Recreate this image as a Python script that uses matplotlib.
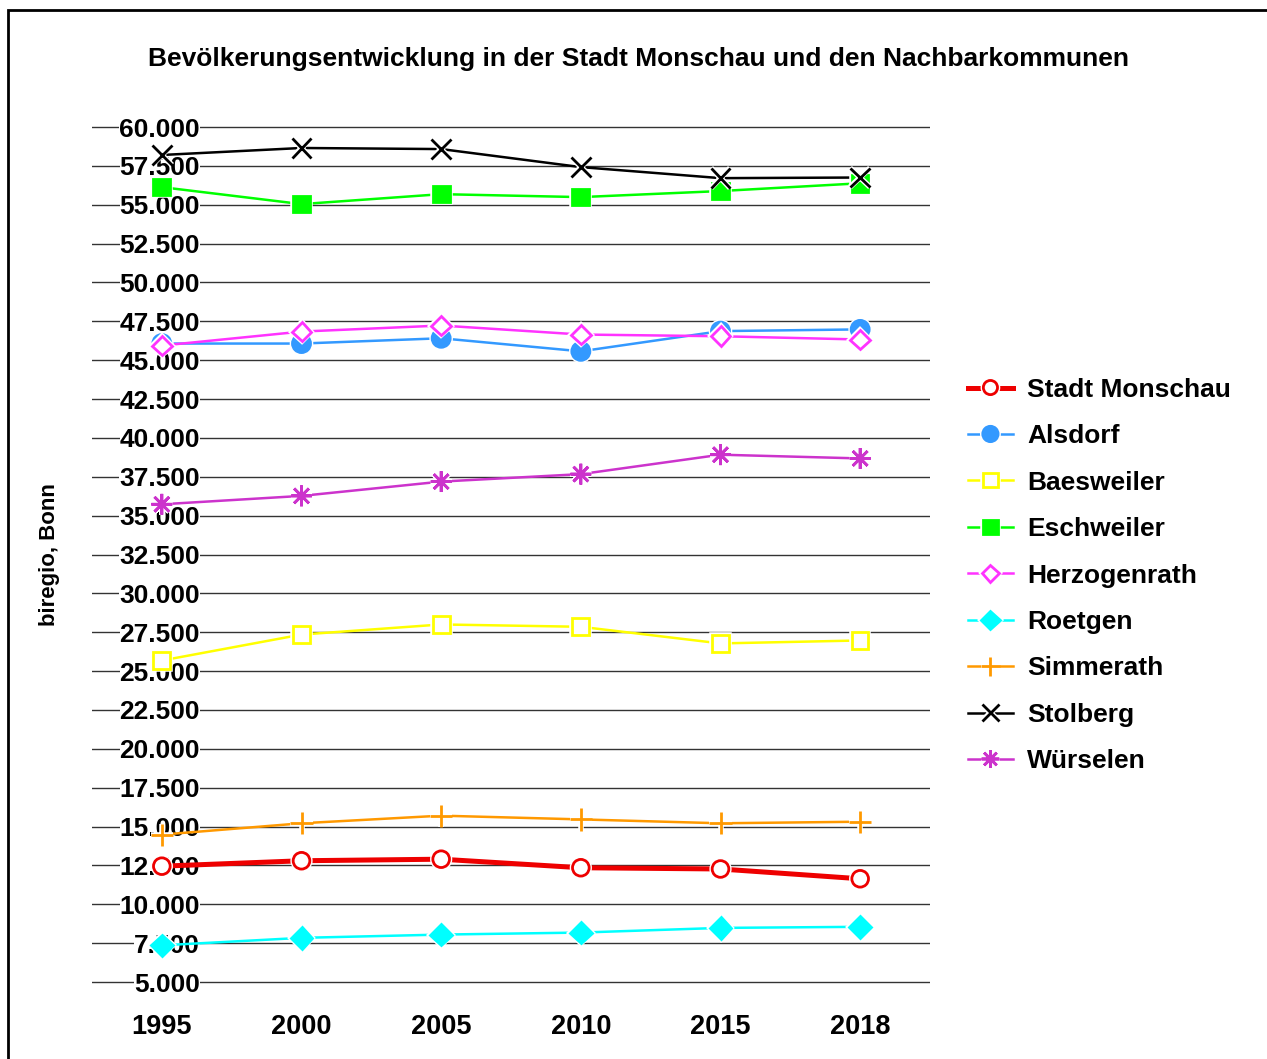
import matplotlib
matplotlib.use("Agg")
import matplotlib.pyplot as plt
import matplotlib.patheffects as pe
from matplotlib.patches import Rectangle
from matplotlib.ticker import FuncFormatter

plt.rcParams['font.family'] = ['Liberation Sans', 'DejaVu Sans']
plt.rcParams['font.weight'] = 'bold'

TITLE = "Bevölkerungsentwicklung in der Stadt Monschau und den Nachbarkommunen"
YLABEL = "biregio, Bonn"

years = ["1995", "2000", "2005", "2010", "2015", "2018"]

monschau     = [12450, 12800, 12900, 12350, 12270, 11640]
alsdorf      = [46070, 46070, 46410, 45570, 46870, 46980]
baesweiler   = [25680, 27350, 28000, 27850, 26780, 26970]
eschweiler   = [56130, 55040, 55680, 55490, 55880, 56380]
herzogenrath = [45940, 46840, 47230, 46650, 46540, 46330]
roetgen      = [7360, 7840, 8050, 8180, 8480, 8550]
simmerath    = [14480, 15210, 15700, 15460, 15210, 15310]
stolberg     = [58200, 58650, 58580, 57420, 56710, 56750]
wuerselen    = [35730, 36270, 37190, 37670, 38920, 38680]

yticks = list(range(5000, 60001, 2500))

# name, data, color, marker, marker size, filled, line width
series = [
    ("Stadt Monschau", monschau, "#EE0000", "o", 12, False, 3.6),
    ("Alsdorf", alsdorf, "#3399FF", "o", 13, True, 1.8),
    ("Baesweiler", baesweiler, "#FFFF00", "s", 12, False, 1.8),
    ("Eschweiler", eschweiler, "#00FF00", "s", 12, True, 1.8),
    ("Herzogenrath", herzogenrath, "#FF33FF", "D", 10, False, 1.8),
    ("Roetgen", roetgen, "#00FFFF", "D", 11, True, 1.8),
    ("Simmerath", simmerath, "#FF9900", "+", 16, True, 1.8),
    ("Stolberg", stolberg, "#000000", "x", 14, True, 1.8),
    ("Würselen", wuerselen, "#CC33CC", (8, 2, 0), 15, True, 1.8),
]

W, H = 1267, 1059
fig = plt.figure(figsize=(W / 100, H / 100), dpi=100)

# axes: x 92..930 px, y-grid 60.000 at 127 px, 5.000 at 982 px
pxu = (982 - 127) / 55000
ylo, yhi = 4000, 61000
top = 127 - (yhi - 60000) * pxu
bot = 982 + (5000 - ylo) * pxu
ax = fig.add_axes([92 / W, 1 - bot / H, (930 - 92) / W, (bot - top) / H])
ax.set_xlim(-0.5, len(years) - 0.5)
ax.set_ylim(ylo, yhi)

for v in yticks:
    ax.axhline(v, color="#333333", lw=1.0, zorder=1)

handles = []
x = list(range(len(years)))
for name, data, col, mk, ms, filled, lw in series:
    ln, = ax.plot(x, data, color=col, lw=lw, zorder=3)
    mfc = col if filled else "white"
    m, = ax.plot(x, data, ls="none", marker=mk, ms=ms, mfc=mfc, mec=col,
                 mew=2.0, zorder=4, clip_on=False)
    m.set_path_effects([pe.Stroke(linewidth=4, foreground="white"), pe.Normal()])
    handles.append((ln, m))

ax.set_xticks(x)
ax.set_xticklabels(years)
ax.set_yticks(yticks)
ax.yaxis.set_major_formatter(FuncFormatter(lambda v, p: f"{v:,.0f}".replace(",", ".")))
ax.tick_params(axis="y", length=0, pad=-(200 - 92) * 0.72, labelsize=19)
ax.tick_params(axis="x", length=0, pad=12, labelsize=19.5)
for lab in ax.get_yticklabels():
    lab.set_bbox(dict(facecolor="white", edgecolor="none", pad=0))
for s in ax.spines.values():
    s.set_visible(False)

fig.text(639 / W, 1 - 59 / H, TITLE, ha="center", va="center", fontsize=19, fontweight="bold")
fig.text(49 / W, 1 - 555 / H, YLABEL, ha="center", va="center", rotation=90,
         fontsize=16, fontweight="bold")

leg = fig.legend(handles, [s[0] for s in series], loc="center left",
                 bbox_to_anchor=(968 / W, 1 - 575.5 / H), frameon=False,
                 borderpad=0, borderaxespad=0, handlelength=1.7, handletextpad=0.55,
                 labelspacing=0.85, prop={"size": 19, "weight": "bold"}, markerscale=0.85)

fig.add_artist(Rectangle((8 / W, -0.1), 1.2, 1 - 10 / H + 0.1, transform=fig.transFigure,
                         fill=False, lw=2, ec="black"))

fig.savefig("out.png", dpi=100)
